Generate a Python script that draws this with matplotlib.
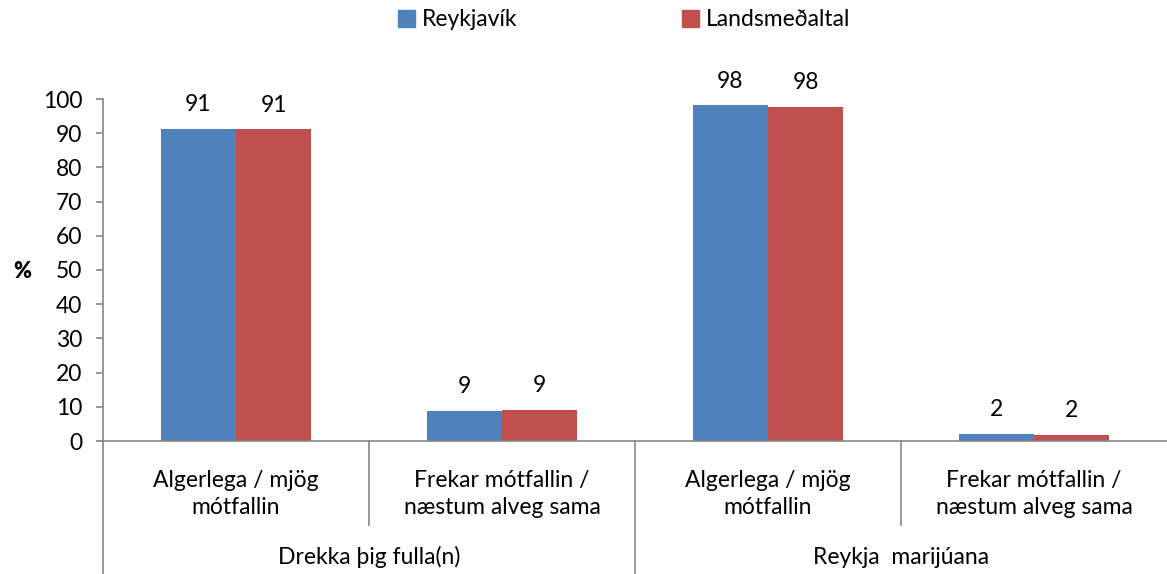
import matplotlib.pyplot as plt
from matplotlib.patches import Patch
from matplotlib.lines import Line2D

plt.rcParams['font.family'] = ['Lato', 'DejaVu Sans']

subCategories = ['Algerlega / mjög\nmótfallin', 'Frekar mótfallin /\nnæstum alveg sama',
                 'Algerlega / mjög\nmótfallin', 'Frekar mótfallin /\nnæstum alveg sama']
groups = ['Drekka þig fulla(n)', 'Reykja  marijúana']
series = ['Reykjavík', 'Landsmeðaltal']
reykjavik = [91.3, 8.8, 98.1, 2.1]
landsmedaltal = [91.1, 9.0, 97.6, 1.9]
colors = ['#4F81BD', '#C0504D']
axisColor = '#868686'
fs = 16.5

W, H = 1167, 574
fig = plt.figure(figsize=(W / 100, H / 100), dpi=100)
# axes in pixel terms: left 103, right 1167, bottom 441, top(100) 99
ax = fig.add_axes([103 / W, (H - 441) / H, (W - 103) / W, (441 - 99) / H])

barWidth = 0.283
xs = list(range(len(subCategories)))
for offset, vals, color in [(-barWidth / 2, reykjavik, colors[0]), (barWidth / 2, landsmedaltal, colors[1])]:
    bars = ax.bar([x + offset for x in xs], vals, width=barWidth, color=color, edgecolor='none')
    for b, v in zip(bars, vals):
        ax.annotate('{:.0f}'.format(v), (b.get_x() + b.get_width() / 2, v), xytext=(0, 10),
                    textcoords='offset points', ha='center', va='bottom', fontsize=fs, clip_on=False)

ax.set_xlim(-0.5, 3.5)
ax.set_ylim(0, 100)
ax.set_yticks(range(0, 101, 10))
ax.tick_params(axis='y', labelsize=fs, color=axisColor, length=5, width=1.2, pad=10)
ax.set_xticks([])
for s in ['top', 'right']:
    ax.spines[s].set_visible(False)
for s in ['left', 'bottom']:
    ax.spines[s].set_color(axisColor)
    ax.spines[s].set_linewidth(1.2)
ax.spines['left'].set_bounds(0, 100)

axH = 441 - 99
trans = ax.get_xaxis_transform()
def fy(py):
    # pixel y below axis bottom -> axes fraction
    return -(py - 441) / axH

# left spine extension down to bottom of image
ax.add_line(Line2D([-0.5, -0.5], [0, fy(H)], transform=trans, color=axisColor, lw=1.2, clip_on=False))
for x in [0.5, 2.5]:
    ax.add_line(Line2D([x, x], [0, fy(525)], transform=trans, color=axisColor, lw=1.2, clip_on=False))
ax.add_line(Line2D([1.5, 1.5], [0, fy(H)], transform=trans, color=axisColor, lw=1.2, clip_on=False))

for x, lab in zip(xs, subCategories):
    ax.text(x, fy(494), lab, transform=trans, ha='center', va='center', fontsize=fs, linespacing=1.3)
for i, g in enumerate(groups):
    ax.text(0.5 + 2 * i, fy(557), g, transform=trans, ha='center', va='center', fontsize=fs)

fig.text(22 / W, (H - 271) / H, '%', fontsize=fs - 1, fontweight='heavy', ha='center', va='center')

handles = [Patch(color=c) for c in colors]
fig.legend(handles, series, loc='center', bbox_to_anchor=(624 / W, (H - 20) / H), ncol=2, frameon=False,
           fontsize=fs, handlelength=0.75, handleheight=0.75, handletextpad=0.3, columnspacing=7.2)

plt.savefig('out.png', dpi=100)
